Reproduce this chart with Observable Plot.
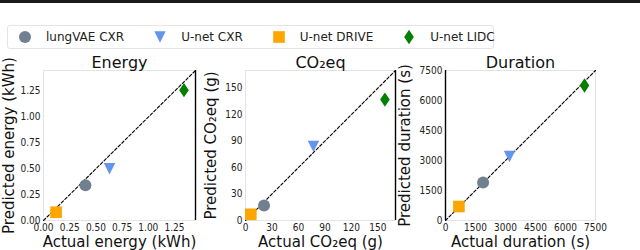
<!DOCTYPE html>
<html><head><meta charset="utf-8">
<script src="https://cdn.jsdelivr.net/npm/d3@7"></script>
<script src="https://cdn.jsdelivr.net/npm/@observablehq/plot@0.6"></script>
<style>
body{margin:0;background:#fff;}
#chart{position:relative;width:640px;height:250px;overflow:hidden;font-family:"DejaVu Sans",sans-serif;background:#fff;}
#topline{position:absolute;left:0;top:0;width:640px;height:3px;background:#1a1a1a;}
#legend{position:absolute;left:7px;top:25px;width:487px;height:24px;border:1px solid #e4e4e4;border-radius:3px;display:flex;align-items:center;padding-left:11px;box-sizing:border-box;font-size:12px;color:#222;background:#fff;z-index:2;}
.item{display:flex;align-items:center;margin-right:30px;white-space:nowrap;}
.item svg{margin-right:15px;display:block;}
.panel{position:absolute;top:0;}
</style>
</head><body>
<div id="chart"><div id="topline"></div><div id="legend"></div></div>
<script>
// ---- data ----
const groups = ["lungVAE CXR", "U-net CXR", "U-net DRIVE", "U-net LIDC"];
const colors = ["#708090", "#6495ED", "#FFA500", "#008000"];

const energyActual    = [0.40, 0.63, 0.12, 1.34];
const energyPredicted = [0.34, 0.50, 0.08, 1.26];
const co2Actual       = [21, 77, 6, 158];
const co2Predicted    = [17, 84, 7, 137];
const durationActual    = [1880, 3200, 670, 6950];
const durationPredicted = [1900, 3200, 700, 6750];

const energyTicks   = [0, 0.25, 0.5, 0.75, 1.0, 1.25];
const co2Ticks      = [0, 30, 60, 90, 120, 150];
const durationTicks = [0, 1500, 3000, 4500, 6000, 7500];

const energyDomain   = [0, 1.45];
const co2Domain      = [0, 170];
const durationDomain = [0, 7500];

// ---- symbols ----
const symCircle = {draw(c, s){ const r = Math.sqrt(s/Math.PI); c.moveTo(r,0); c.arc(0,0,r,0,2*Math.PI); }};
const symTriDown = {draw(c, s){ const r = Math.sqrt(s/Math.PI)*0.95; c.moveTo(-r,-r); c.lineTo(r,-r); c.lineTo(0,r); c.closePath(); }};
const symSquare = {draw(c, s){ const r = Math.sqrt(s/Math.PI)*0.97; c.rect(-r,-r,2*r,2*r); }};
const symDiamond = {draw(c, s){ const r = Math.sqrt(s/Math.PI); c.moveTo(0,-1.2*r); c.lineTo(0.8*r,0); c.lineTo(0,1.2*r); c.lineTo(-0.8*r,0); c.closePath(); }};
const symbols = [symCircle, symTriDown, symSquare, symDiamond];

// ---- legend ----
const legend = document.getElementById("legend");
groups.forEach((g, i) => {
  const item = document.createElement("div");
  item.className = "item";
  const svg = d3.create("svg").attr("width", 12).attr("height", 16);
  svg.append("path").attr("transform", "translate(6,8)")
    .attr("d", d3.symbol(symbols[i], Math.PI * 36)())
    .attr("fill", colors[i]);
  item.appendChild(svg.node());
  const span = document.createElement("span");
  span.textContent = g;
  item.appendChild(span);
  legend.appendChild(item);
});

const FONT = "DejaVu Sans, sans-serif";
const TICKFONT = "'DejaVu Sans Condensed', 'Liberation Sans Narrow', 'DejaVu Sans', sans-serif";

function panel(o) {
  const data = groups.map((g, i) => ({group: g, actual: o.actual[i], predicted: o.predicted[i]}));
  const p = Plot.plot({
    width: o.width, height: 250,
    marginLeft: o.marginLeft, marginRight: o.marginRight, marginTop: 70, marginBottom: 30,
    style: {fontFamily: TICKFONT, background: "transparent", overflow: "visible", color: "#222"},
    x: {domain: o.domain},
    y: {domain: o.domain},
    symbol: {domain: groups, range: symbols},
    color: {domain: groups, range: colors},
    marks: [
      Plot.frame({stroke: "#e4e4e4"}),
      Plot.axisX({ticks: o.ticks, tickSize: 0, tickPadding: 3, tickFormat: o.format, fontSize: 10, label: null}),
      Plot.axisY({ticks: o.ticks, tickSize: 0, tickPadding: 3, tickFormat: o.format, fontSize: 10, label: null}),
      Plot.axisY({ticks: [], tickSize: 0, label: o.yLabel, labelAnchor: "center", labelArrow: "none",
        labelOffset: o.labelOffset, fontSize: 15, fontFamily: FONT, fill: "#111"}),
      Plot.line(o.domain.map(v => ({v})), {x: "v", y: "v", stroke: "black", strokeWidth: 1.1, strokeDasharray: "3,2"}),
      Plot.ruleX([o.blackAt], {stroke: "black", strokeWidth: 1.4}),
      Plot.dot(data, {x: "actual", y: "predicted", symbol: "group", fill: "group", r: 6}),
      Plot.text([o.title], {text: d => d, frameAnchor: "top", lineAnchor: "bottom", dy: -3, fontSize: 16, fontFamily: FONT, fill: "#111"}),
      Plot.text([o.xLabel], {text: d => d, frameAnchor: "bottom", lineAnchor: "middle", dy: 22, fontSize: 15, fontFamily: FONT, fill: "#111"})
    ]
  });
  p.classList.add("panel");
  p.style.left = o.left + "px";
  document.getElementById("chart").appendChild(p);
}

panel({left: 0, width: 207, marginLeft: 43, marginRight: 12,
  actual: energyActual, predicted: energyPredicted, domain: energyDomain, ticks: energyTicks,
  format: d3.format(".2f"), title: "Energy", xLabel: "Actual energy (kWh)", yLabel: "Predicted energy (kWh)",
  labelOffset: 40, blackAt: energyDomain[1]});
panel({left: 200, width: 200, marginLeft: 45, marginRight: 5,
  actual: co2Actual, predicted: co2Predicted, domain: co2Domain, ticks: co2Ticks,
  format: d3.format("d"), title: "CO₂eq", xLabel: "Actual CO₂eq (g)", yLabel: "Predicted CO₂eq (g)",
  labelOffset: 40, blackAt: co2Domain[1]});
panel({left: 400, width: 240, marginLeft: 45, marginRight: 45,
  actual: durationActual, predicted: durationPredicted, domain: durationDomain, ticks: durationTicks,
  format: d3.format("d"), title: "Duration", xLabel: "Actual duration (s)", yLabel: "Predicted duration (s)",
  labelOffset: 46, blackAt: durationDomain[0]});
</script>
</body></html>
